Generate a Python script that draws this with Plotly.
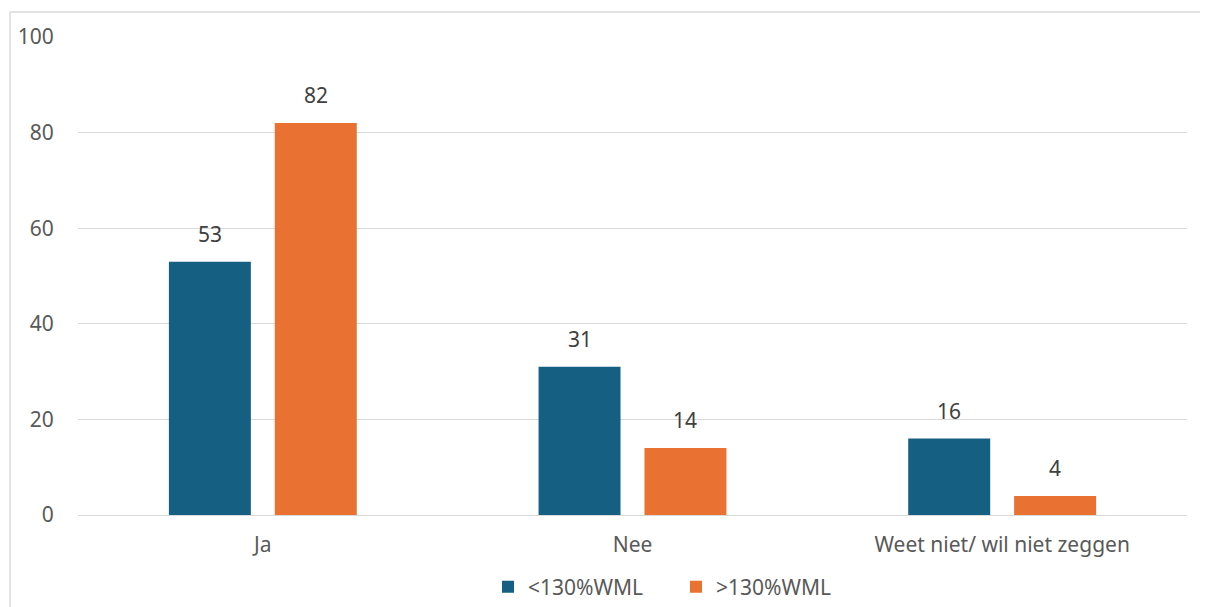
import plotly.graph_objects as go

categories = ["Ja", "Nee", "Weet niet/ wil niet zeggen"]
series_names = ["<130%WML", ">130%WML"]
low_values = [53, 31, 16]
high_values = [82, 14, 4]
y_ticks = [0, 20, 40, 60, 80, 100]

colors = ["#156082", "#E97132"]
font_family = "Noto Sans, Open Sans, sans-serif"
text_gray = "#595959"
label_gray = "#404040"
fsize = 21

# page has an 8px body margin, so the figure is sized to fit the viewport
W, H = 1200, 599
ml, mr, mt, mb = 70, 21, 29, 92
pw = W - ml - mr
ph = H - mt - mb
bargap, bargroupgap = 0.427, 0.226

fig = go.Figure()
for name, vals, col in zip(series_names, [low_values, high_values], colors):
    fig.add_trace(go.Bar(
        x=categories, y=vals, name=name,
        marker=dict(color=col, line=dict(width=0)),
    ))

# data labels above bars
slot = pw / len(categories) * (1 - bargap) / 2
annotations = []
for i, vals in enumerate([low_values, high_values]):
    shift = (i - 0.5) * slot
    for c, v in zip(categories, vals):
        annotations.append(dict(
            x=c, y=v, xref="x", yref="y", text=str(v), showarrow=False,
            xanchor="center", yanchor="bottom", xshift=shift, yshift=12,
            font=dict(size=fsize, color=label_gray, family=font_family),
        ))

bx0 = (2 - ml) / pw
bx1 = (1260 - ml) / pw
by0 = (mt + ph - 660) / ph
by1 = (mt + ph - 4) / ph
border = dict(color="#D9D9D9", width=1.5)

fig.update_layout(
    width=W, height=H,
    margin=dict(l=ml, r=mr, t=mt, b=mb, autoexpand=False),
    paper_bgcolor="white", plot_bgcolor="white",
    barmode="group", bargap=bargap, bargroupgap=bargroupgap,
    font=dict(family=font_family, size=fsize, color=text_gray),
    showlegend=True,
    legend=dict(orientation="h", x=(668 - ml) / pw, xanchor="center",
                y=(mt + ph - 579) / ph, yanchor="middle",
                font=dict(size=fsize, color=text_gray),
                itemwidth=30, entrywidthmode="pixels", entrywidth=143),
    xaxis=dict(showgrid=False, showline=False, ticks="outside", ticklen=11,
               tickcolor="rgba(0,0,0,0)", automargin=False,
               tickfont=dict(size=fsize, color=text_gray)),
    yaxis=dict(range=[0, 100], tickvals=y_ticks, showgrid=True, gridcolor="#D9D9D9",
               gridwidth=1.3, zeroline=True, zerolinecolor="#D9D9D9", zerolinewidth=1.3,
               showline=False, ticks="outside", ticklen=19, tickcolor="rgba(0,0,0,0)",
               automargin=False, tickfont=dict(size=fsize, color=text_gray)),
    annotations=annotations,
    shapes=[
        dict(type="line", xref="paper", yref="paper", x0=bx0, x1=bx0, y0=by0, y1=by1,
             line=border, layer="below"),
        dict(type="line", xref="paper", yref="paper", x0=bx0, x1=bx1, y0=by1, y1=by1,
             line=border, layer="below"),
    ],
)

fig.write_html("out.html")
